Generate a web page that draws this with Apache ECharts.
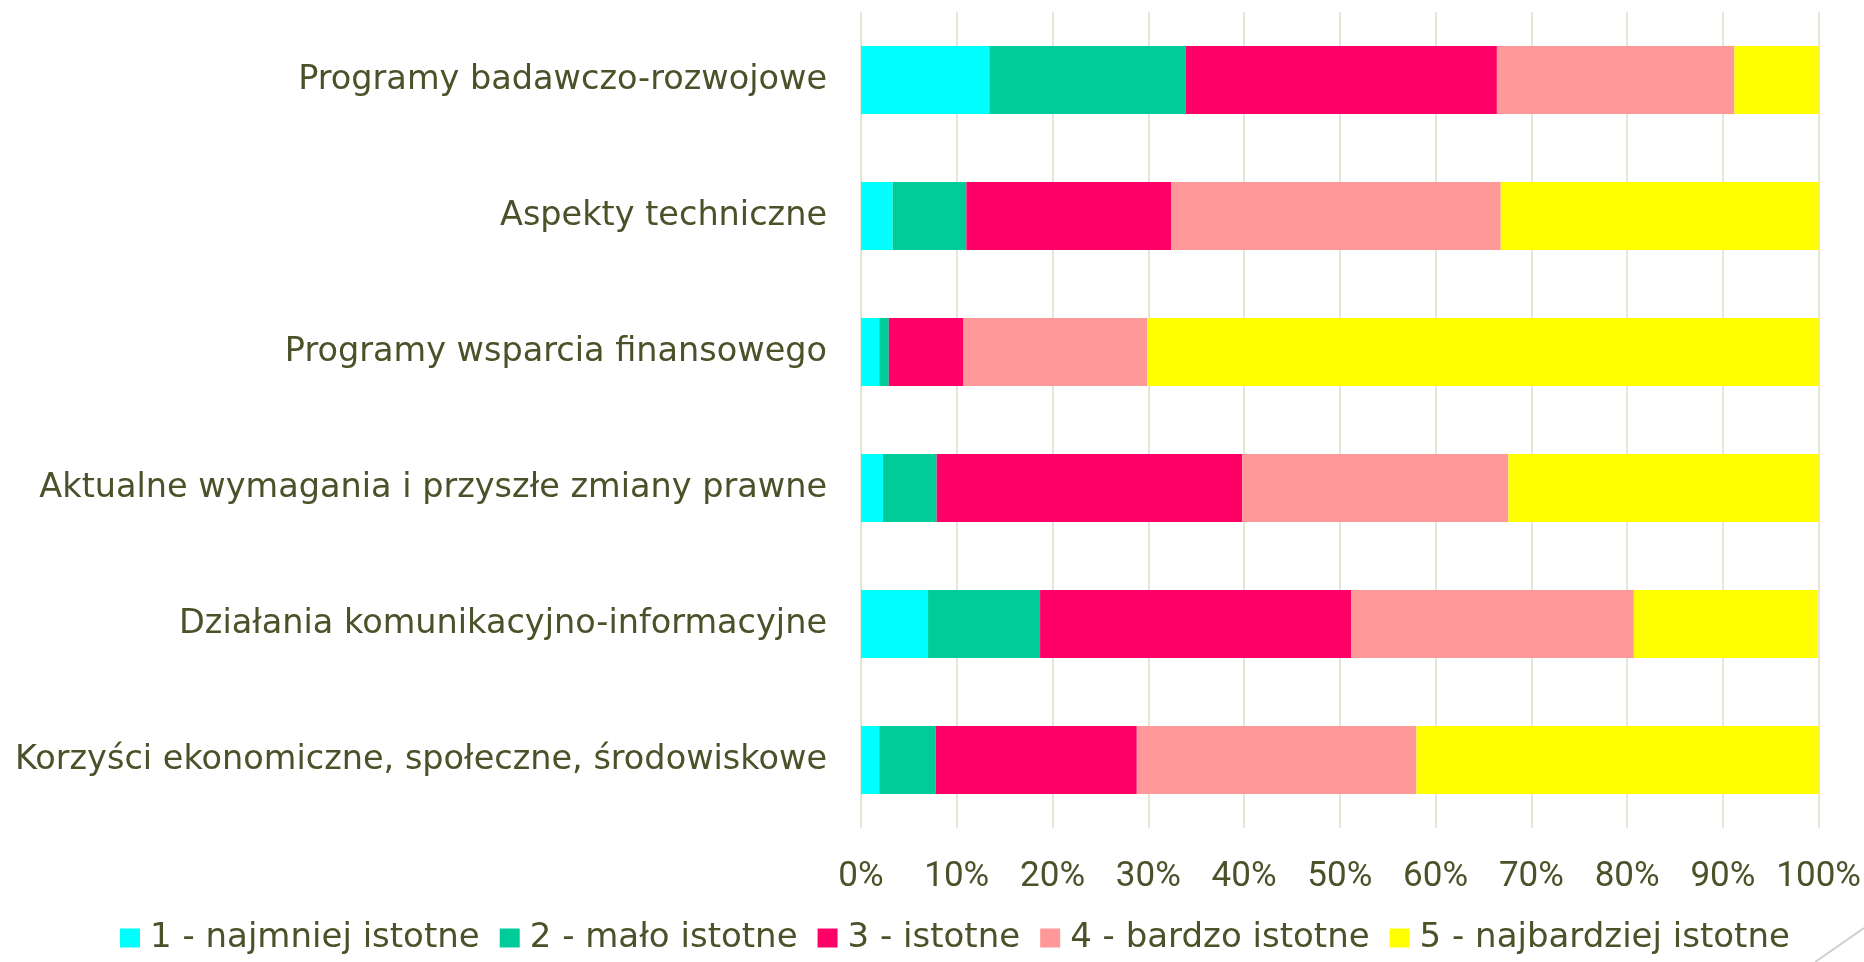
<!DOCTYPE html>
<html lang="pl">
<head>
  <meta charset="UTF-8">
  <title>Istotność czynników</title>
  <script src="https://cdn.jsdelivr.net/npm/echarts@6/dist/echarts.min.js"></script>
  <style>
    html, body { margin: 0; padding: 0; background: #fff; }
  </style>
</head>
<body>
<div id="box" style="width: 1864px;height: 962px;"></div>
<script>
  // kategorie (od góry)
  var kategorie = [
    'Programy badawczo-rozwojowe',
    'Aspekty techniczne',
    'Programy wsparcia finansowego',
    'Aktualne wymagania i przyszłe zmiany prawne',
    'Działania komunikacyjno-informacyjne',
    'Korzyści ekonomiczne, społeczne, środowiskowe'
  ];
  // udział odpowiedzi w %
  var ocena1 = [13.4, 3.3, 1.9, 2.3, 7.0, 1.9];
  var ocena2 = [20.5, 7.7, 1.0, 5.6, 11.7, 5.9];
  var ocena3 = [32.5, 21.4, 7.8, 31.9, 32.5, 21.0];
  var ocena4 = [24.8, 34.4, 19.2, 27.8, 29.5, 29.2];
  var ocena5 = [8.8, 33.2, 70.1, 32.4, 19.2, 42.0];
  var nazwy = ['1 - najmniej istotne', '2 - mało istotne', '3 - istotne', '4 - bardzo istotne', '5 - najbardziej istotne'];
  var kolory = ['#00FFFF', '#00CC99', '#FF0066', '#FF9999', '#FFFF00'];

  var tekst = '#4B5128';
  var dane = [ocena1, ocena2, ocena3, ocena4, ocena5];

  var myChart = echarts.init(document.getElementById('box'));
  var option = {
    color: kolory,
    animation: false,
    legend: {
      data: nazwy,
      bottom: 2,
      left: 115,
      itemWidth: 20,
      itemHeight: 19,
      itemGap: 20,
      icon: 'rect',
      textStyle: { color: tekst, fontSize: 34, fontFamily: 'DejaVu Sans', padding: [0, 0, 0, 5] }
    },
    grid: { left: 861, right: 45, top: 12, bottom: 134 },
    xAxis: {
      type: 'value',
      min: 0,
      max: 100,
      interval: 10,
      axisLine: { show: false },
      axisTick: { show: false },
      axisLabel: {
        formatter: '{value}%',
        color: tekst,
        fontSize: 35,
        fontFamily: 'Roboto',
        margin: 32
      },
      splitLine: { lineStyle: { color: '#E6E6D6', width: 2 } }
    },
    yAxis: {
      type: 'category',
      data: kategorie,
      inverse: true,
      axisLine: { show: false },
      axisTick: { show: false },
      axisLabel: {
        color: tekst,
        fontSize: 33.5,
        fontFamily: 'DejaVu Sans',
        margin: 34
      }
    },
    series: nazwy.map(function (n, i) {
      return {
        name: n,
        type: 'bar',
        stack: 'suma',
        barWidth: '50%',
        data: dane[i]
      };
    }),
    graphic: [{
      type: 'line',
      shape: { x1: 1864, y1: 928, x2: 1815, y2: 962 },
      style: { stroke: '#CFCFCF', lineWidth: 2 }
    }]
  };
  myChart.setOption(option);
</script>
</body>
</html>
